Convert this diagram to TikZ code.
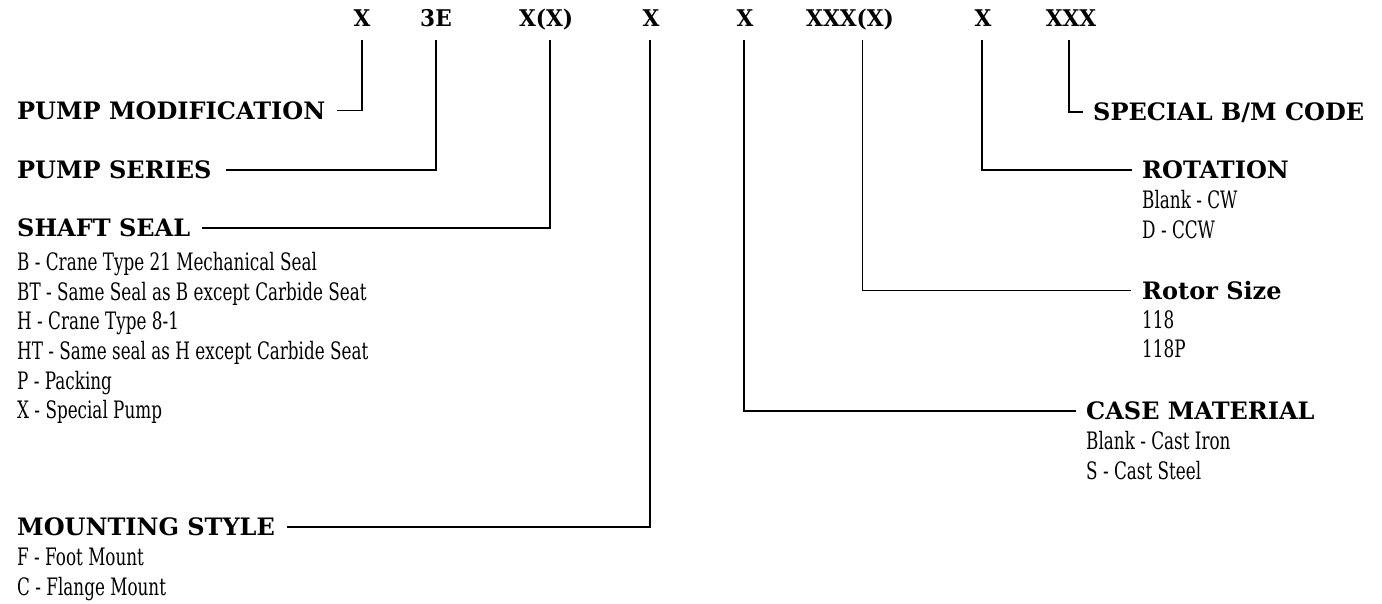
\documentclass[tikz,border=0pt]{standalone}
\usepackage{fontspec}
\setmainfont{DejaVu Serif}
\newfontfamily\itemfont{DejaVu Serif}[FakeStretch=0.70]
\newfontfamily\codefont{DejaVu Serif}[FakeStretch=0.94]
\begin{document}
\begin{tikzpicture}[x=1pt,y=-1pt,
  codetxt/.style={font=\codefont\fontsize{23}{27}\selectfont\bfseries, inner sep=0pt, text height=17pt, text depth=0pt},
  hd/.style={font=\fontsize{24}{28}\selectfont\bfseries, inner sep=0pt, text height=17pt, text depth=0pt, anchor=west},
  itm/.style={font=\itemfont\fontsize{24}{28}\selectfont, inner sep=0pt, text height=17pt, text depth=0pt, anchor=west},
  ln/.style={line width=1.5pt, draw=black}]
\useasboundingbox (0,0) rectangle (1382,603);
\fill[white] (0,0) rectangle (1382,603);
% code letters
\node[codetxt] (c1) at (362,18) {X};
\node[codetxt] (c2) at (436,18) {3E};
\node[codetxt] (c3) at (546,18) {X(X)};
\node[codetxt] (c4) at (651,18) {X};
\node[codetxt] (c5) at (745,18) {X};
\node[codetxt] (c6) at (850,18) {XXX(X)};
\node[codetxt] (c7) at (983,18) {X};
\node[codetxt] (c8) at (1071,18) {XXX};
% left headings
\node[hd] (pm) at (17,110.7) {PUMP MODIFICATION};
\node[hd] (ps) at (17,170) {PUMP SERIES};
\node[hd] (ss) at (17,228) {SHAFT SEAL};
\node[itm] (ss1) at (17,262) {B - Crane Type 21 Mechanical Seal};
\node[itm] (ss2) at (17,292) {BT - Same Seal as B except Carbide Seat};
\node[itm] (ss3) at (17,321) {H - Crane Type 8-1};
\node[itm] (ss4) at (17,351) {HT - Same seal as H except Carbide Seat};
\node[itm] (ss5) at (17,381) {P - Packing};
\node[itm] (ss6) at (17,410) {X - Special Pump};
\node[hd] (ms) at (17,527) {MOUNTING STYLE};
\node[itm] (ms1) at (17,557) {F - Foot Mount};
\node[itm] (ms2) at (17,587) {C - Flange Mount};
% right headings
\node[hd] (sp) at (1093,112) {SPECIAL B/M CODE};
\node[hd] (ro) at (1142,170) {ROTATION};
\node[itm] (ro1) at (1142,200) {Blank - CW};
\node[itm] (ro2) at (1142,230) {D - CCW};
\node[hd] (rs) at (1142,290.7) {Rotor Size};
\node[itm] (rs1) at (1142,320) {118};
\node[itm] (rs2) at (1142,349) {118P};
\node[hd] (cm) at (1086,411) {CASE MATERIAL};
\node[itm] (cm1) at (1086,441) {Blank - Cast Iron};
\node[itm] (cm2) at (1086,471) {S - Cast Steel};
% connectors
\draw[ln] ([xshift=12pt]pm.east) -| ([yshift=-13pt]c1.south);
\draw[ln] ([xshift=14pt]ps.east) -| ([yshift=-13pt]c2.south);
\draw[ln] ([xshift=12pt]ss.east) -| ([xshift=4pt,yshift=-13pt]c3.south);
\draw[ln] ([xshift=12pt]ms.east) -| ([xshift=-1pt,yshift=-13pt]c4.south);
\draw[ln] ([xshift=-1pt,yshift=-13pt]c5.south) |- ([xshift=-10pt]cm.west);
\draw[ln] ([xshift=12.7pt,yshift=-13pt]c6.south) |- ([xshift=-11pt]rs.west);
\draw[ln] ([xshift=-1pt,yshift=-13pt]c7.south) |- ([xshift=-10pt]ro.west);
\draw[ln] ([xshift=-2pt,yshift=-13pt]c8.south) |- ([xshift=-10pt]sp.west);
\end{tikzpicture}
\end{document}
